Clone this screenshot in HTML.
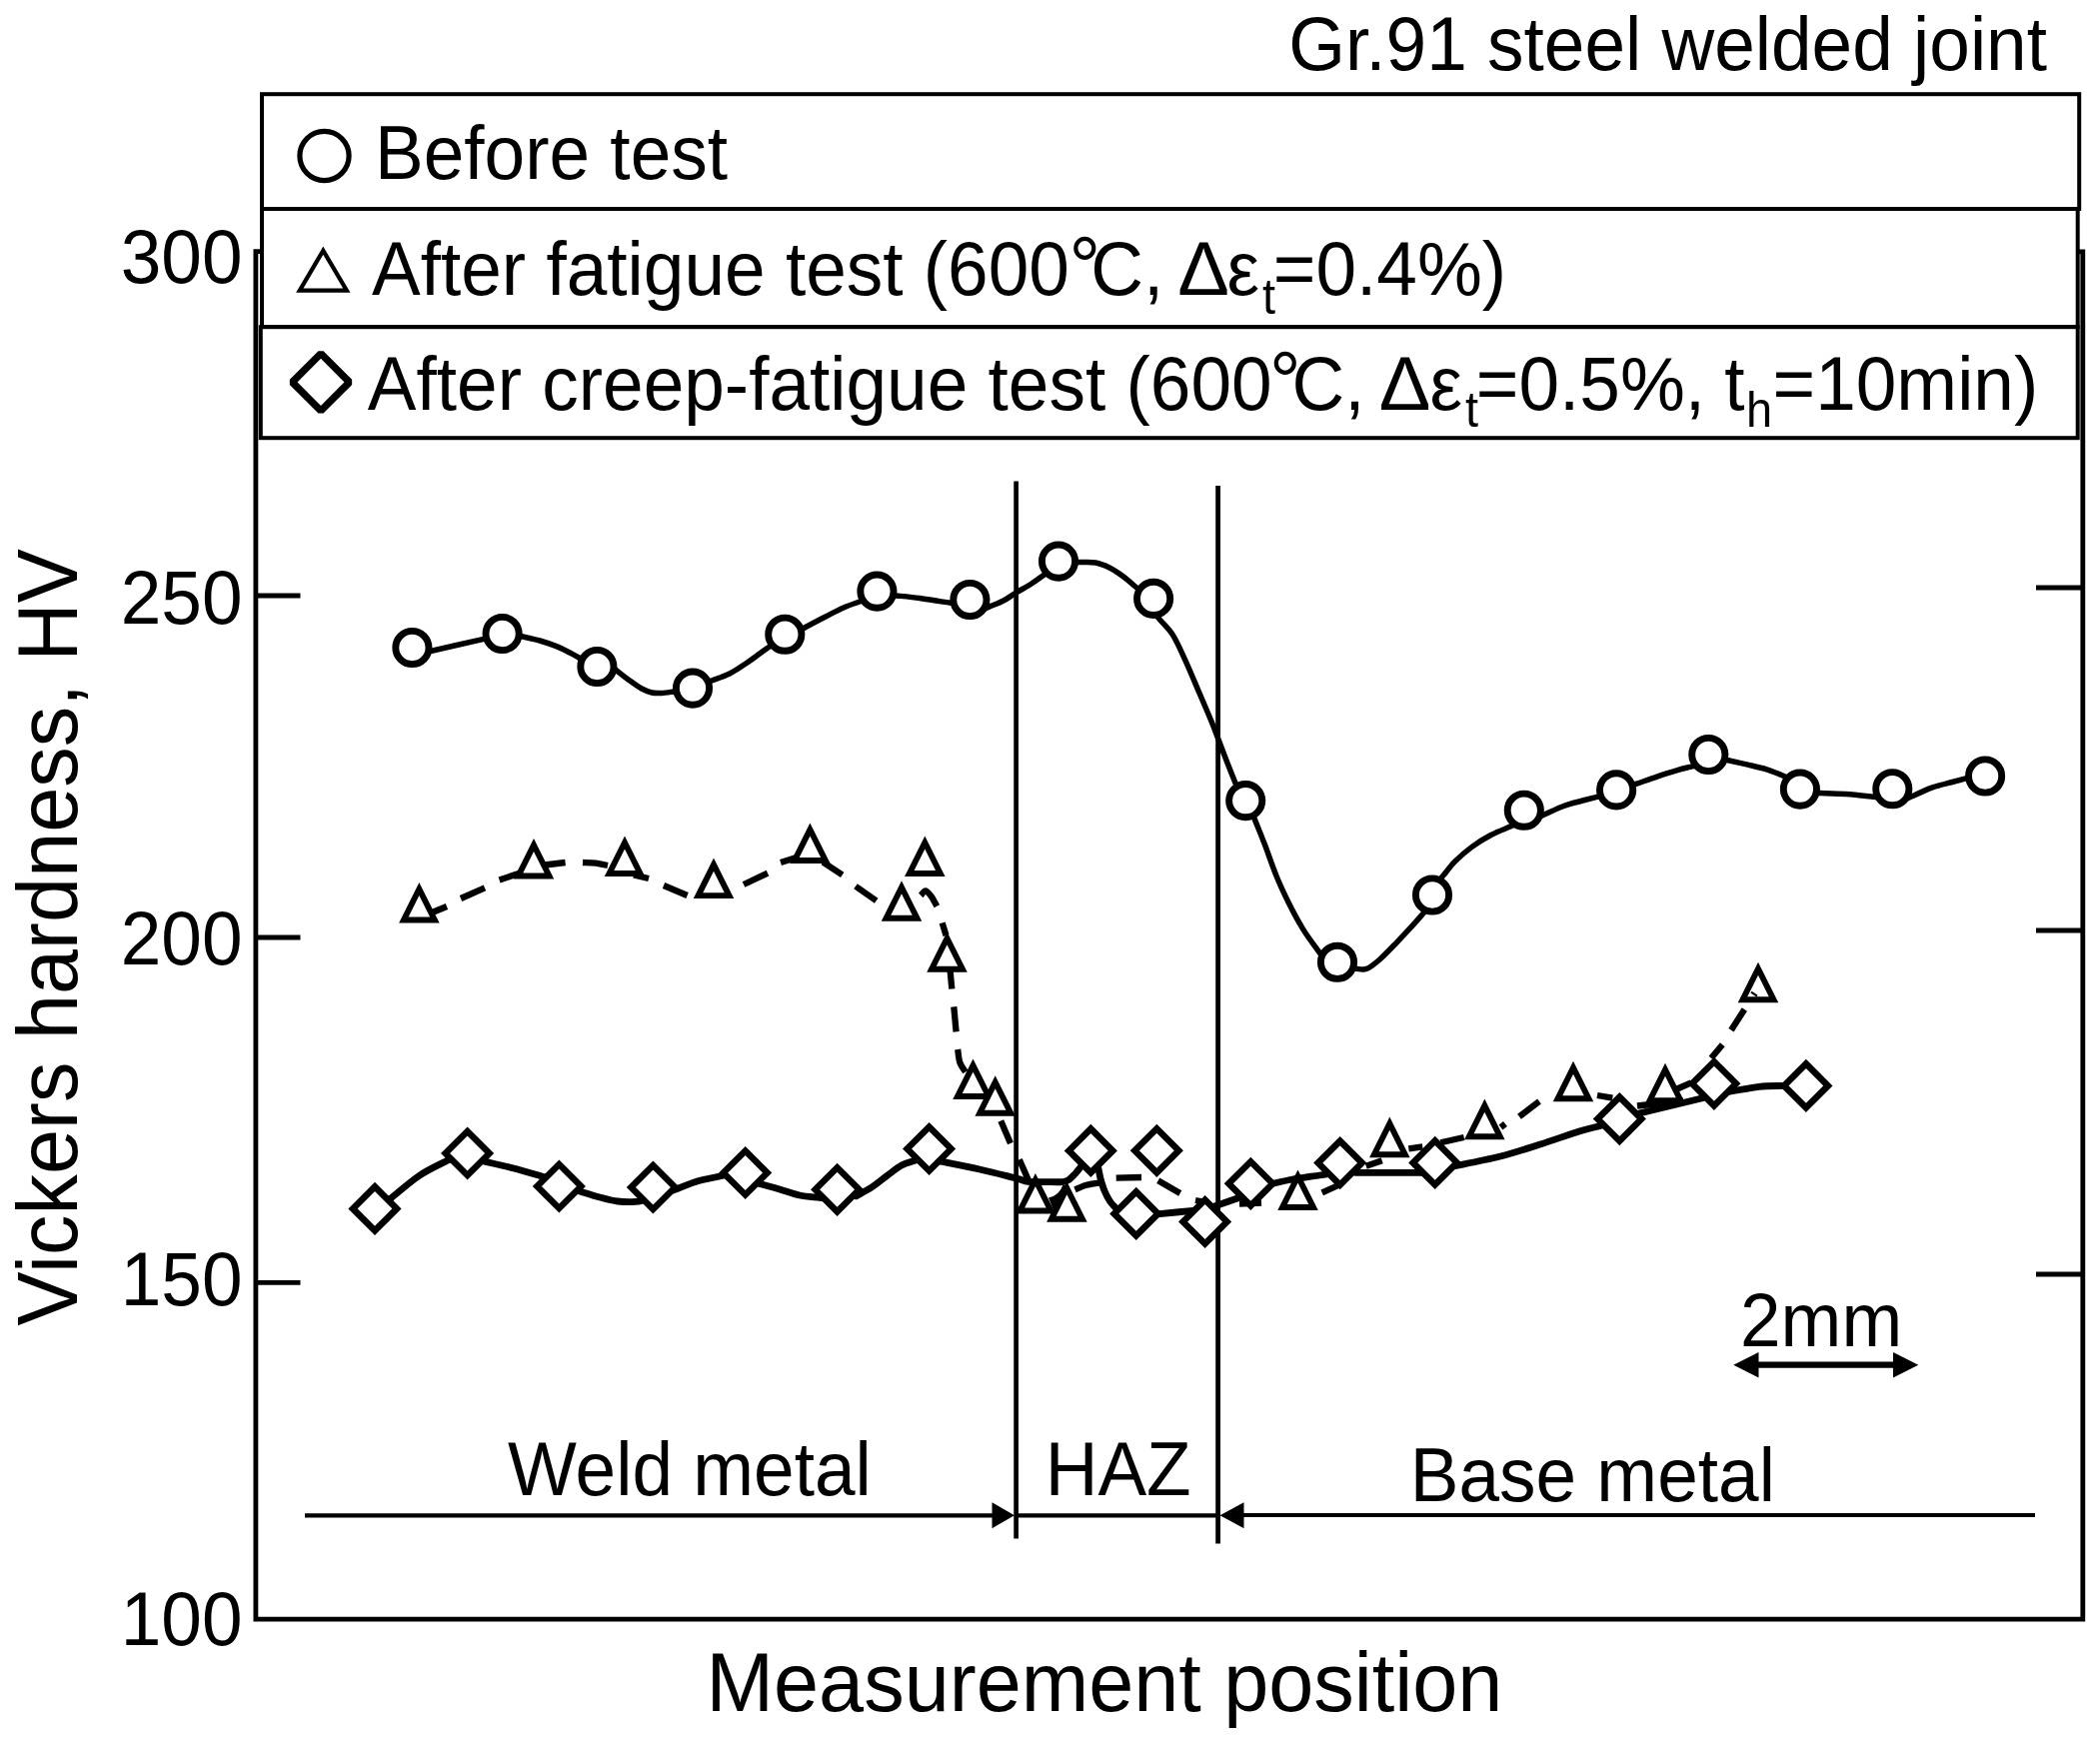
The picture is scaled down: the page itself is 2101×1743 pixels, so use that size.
<!DOCTYPE html>
<html lang="en"><head><meta charset="utf-8"><title>Vickers hardness - Gr.91 steel welded joint</title>
<style>html,body{margin:0;padding:0;background:#fff}body{width:2101px;height:1743px;overflow:hidden}svg{display:block}text{font-family:"Liberation Sans",Arial,Helvetica,sans-serif;fill:#000}</style>
</head><body>
<svg width="2101" height="1743" viewBox="0 0 2101 1743">
<rect width="2101" height="1743" fill="#fff"/>
<g stroke="#000" stroke-width="4.8" fill="none" stroke-linecap="butt">
<path d="M262,251.6 H255.9 V1620.2 H2083.8 V251.9 H2078"/>
<path d="M256,596 H300.5"/>
<path d="M256,938 H300.5"/>
<path d="M256,1283.3 H300.5"/>
<path d="M2083.5,588 H2037"/>
<path d="M2083.5,931 H2037"/>
<path d="M2083.5,1275 H2037"/>
</g>
<g stroke="#000" fill="none">
<path d="M1016.6,481.5 V1539.5" stroke-width="4.7"/>
<path d="M1218.6,486 V1544.5" stroke-width="4.8"/>
<path d="M305,1516.4 H1000 M1016,1516.4 H1218 M1235,1516 H2036" stroke-width="4.2"/>
</g>
<path d="M1015,1516.2 L992.5,1503.2 V1529.2 Z" fill="#000"/>
<path d="M1220.5,1516.2 L1244.5,1503.2 V1529.2 Z" fill="#000"/>
<path d="M1755,1365.7 H1898" stroke="#000" stroke-width="6.3" fill="none"/>
<path d="M1734.3,1365.7 L1759.5,1353 V1378.5 Z M1919.3,1365.7 L1894,1353 V1378.5 Z" fill="#000"/>
<g fill="none" stroke="#000" stroke-width="5.5" stroke-linejoin="round">
<path d="M426.2,652.6 C427.3,652.3 423.5,653.2 433.0,651.0 C442.5,648.8 473.5,641.8 483.0,639.6 C492.5,637.4 488.7,638.3 489.8,638.0"/>
<path d="M516.2,635.4 C517.3,635.7 519.0,636.1 523.0,637.0 C527.0,637.9 534.5,639.4 540.0,641.0 C545.5,642.6 551.0,644.4 556.0,646.4 C561.0,648.4 566.2,651.1 570.0,653.0 C573.8,654.9 576.5,656.6 579.0,658.0 C581.5,659.4 584.1,660.8 585.1,661.4"/>
<path d="M611.5,666.7 C612.4,667.4 613.9,668.6 617.0,671.0 C620.1,673.4 625.8,678.0 630.0,681.0 C634.2,684.0 638.3,687.0 642.0,689.0 C645.7,691.0 648.7,692.3 652.0,693.0 C655.3,693.7 658.3,693.6 662.0,693.4 C665.7,693.2 670.8,692.4 674.0,692.0 C677.2,691.6 679.8,691.3 681.0,691.2"/>
<path d="M705.5,683.5 C706.6,683.1 707.9,682.6 712.0,681.0 C716.1,679.4 724.3,676.8 730.0,674.0 C735.7,671.2 741.0,667.3 746.0,664.0 C751.0,660.7 756.5,656.5 760.0,654.0 C763.5,651.5 764.9,650.5 767.0,649.0 C769.1,647.5 771.7,645.6 772.7,644.9"/>
<path d="M798.8,631.2 C799.8,630.7 800.5,630.4 805.0,628.0 C809.5,625.6 819.5,620.3 826.0,617.0 C832.5,613.7 838.3,610.5 844.0,608.0 C849.7,605.5 856.2,603.4 860.0,602.0 C863.8,600.6 865.5,600.0 866.6,599.5"/>
<path d="M890.0,595.3 C891.2,595.4 892.0,595.5 897.0,596.0 C902.0,596.5 912.8,597.5 920.0,598.4 C927.2,599.3 935.0,600.8 940.0,601.6 C945.0,602.4 947.2,602.6 950.0,603.0 C952.8,603.4 955.8,603.8 956.9,604.0"/>
<path d="M983.6,609.8 C984.6,609.3 986.6,608.5 990.0,607.0 C993.4,605.5 999.6,603.3 1004.0,601.0 C1008.4,598.7 1011.9,595.8 1016.6,593.0 C1021.3,590.2 1027.8,586.7 1032.0,584.0 C1036.2,581.3 1039.4,578.8 1042.0,577.0 C1044.6,575.2 1046.8,573.7 1047.7,573.0"/>
<path d="M1073.0,562.4 C1074.2,562.5 1076.2,562.5 1080.0,562.6 C1083.8,562.7 1091.0,562.1 1096.0,563.0 C1101.0,563.9 1105.3,565.7 1110.0,568.0 C1114.7,570.3 1119.7,573.8 1124.0,577.0 C1128.3,580.2 1133.1,584.6 1136.0,587.0 C1138.9,589.4 1140.5,590.7 1141.4,591.5"/>
<path d="M1156.8,615.6 C1157.5,616.5 1158.5,617.7 1161.3,621.0 C1164.1,624.3 1169.4,629.0 1173.4,635.4 C1177.4,641.8 1181.0,650.0 1185.4,659.6 C1189.8,669.2 1195.5,682.9 1199.9,693.3 C1204.3,703.7 1208.9,714.2 1212.0,721.8 C1215.1,729.4 1215.9,731.8 1218.7,739.1 C1221.5,746.4 1225.9,758.2 1228.8,765.6 C1231.7,773.0 1234.4,779.6 1236.1,783.7 C1237.8,787.8 1238.3,789.1 1238.7,790.2"/>
<path d="M1252.8,813.4 C1253.2,814.5 1253.4,814.8 1255.4,819.9 C1257.4,825.0 1261.4,834.6 1265.0,844.0 C1268.6,853.4 1273.0,866.7 1277.0,876.5 C1281.0,886.3 1284.7,894.1 1289.1,903.0 C1293.5,911.9 1298.4,921.1 1303.6,929.6 C1308.8,938.1 1317.0,948.7 1320.5,953.7 C1324.0,958.7 1323.8,958.5 1324.5,959.4"/>
<path d="M1349.6,969.3 C1350.8,969.3 1353.6,969.3 1356.6,969.3 C1359.6,969.3 1363.5,970.9 1367.5,969.3 C1371.5,967.7 1375.7,964.1 1380.7,959.7 C1385.7,955.3 1392.0,948.6 1397.6,942.8 C1403.2,937.0 1410.3,929.3 1414.5,924.7 C1418.7,920.1 1420.7,917.6 1422.9,915.1 C1425.1,912.6 1426.7,910.7 1427.5,909.8"/>
<path d="M1440.1,880.7 C1440.9,879.8 1442.0,878.4 1444.6,875.3 C1447.2,872.2 1450.9,866.7 1455.5,862.1 C1460.1,857.5 1466.3,852.0 1472.3,847.6 C1478.3,843.2 1485.2,838.9 1491.6,835.5 C1498.0,832.1 1506.6,829.0 1510.9,827.1 C1515.2,825.2 1516.2,824.8 1517.3,824.3"/>
<path d="M1538.2,818.0 C1539.3,817.5 1540.2,817.1 1544.6,815.2 C1549.0,813.3 1558.2,808.8 1564.4,806.5 C1570.6,804.2 1576.1,803.0 1581.7,801.5 C1587.3,800.0 1594.0,798.3 1597.8,797.3 C1601.6,796.3 1603.4,795.8 1604.6,795.5"/>
<path d="M1630.8,786.5 C1631.9,786.1 1632.8,785.8 1637.4,784.2 C1642.0,782.6 1651.7,779.1 1658.5,776.8 C1665.3,774.5 1672.9,772.2 1678.3,770.6 C1683.7,769.0 1687.5,768.2 1690.7,767.4 C1693.9,766.6 1696.3,765.9 1697.5,765.7"/>
<path d="M1722.3,759.2 C1723.4,759.4 1724.9,759.7 1729.1,760.7 C1733.3,761.7 1741.2,763.4 1747.6,764.9 C1754.0,766.4 1761.7,768.0 1767.5,769.8 C1773.3,771.6 1778.7,774.1 1782.3,775.5 C1785.9,776.9 1787.7,777.6 1788.8,778.0"/>
<path d="M1813.7,793.3 C1814.9,793.4 1815.2,793.4 1820.7,793.6 C1826.2,793.8 1837.8,794.0 1846.7,794.6 C1855.6,795.2 1868.3,796.7 1874.0,797.3 C1879.7,797.9 1879.8,797.9 1881.0,798.0"/>
<path d="M1905.9,799.9 C1907.0,799.4 1907.7,799.1 1912.3,797.1 C1916.9,795.1 1926.6,790.3 1933.4,787.9 C1940.2,785.5 1947.6,784.0 1953.2,782.5 C1958.8,781.0 1963.4,779.7 1966.8,778.8 C1970.2,777.9 1972.4,777.3 1973.6,777.0"/>
</g>
<g fill="none" stroke="#000" stroke-width="6.3" stroke-linejoin="round">
<path d="M430.0,914.0 L447.0,907.0"/>
<path d="M461.0,899.0 L485.0,888.4"/>
<path d="M499.6,880.4 L522.0,873.0"/>
<path d="M545.0,865.5 L565.6,863.0"/>
<path d="M583.0,863.0 C585.2,863.1 591.8,863.1 596.0,863.6 C600.2,864.1 606.0,865.6 608.0,866.0"/>
<path d="M634.0,875.5 L649.0,879.0"/>
<path d="M664.0,886.0 L687.6,896.0"/>
<path d="M744.0,885.0 L768.0,873.6"/>
<path d="M781.0,863.0 L800.0,857.0"/>
<path d="M823.3,862.7 L842.7,875.3"/>
<path d="M856.0,886.7 L876.7,901.3"/>
<path d="M921.3,896.0 C922.1,895.2 924.2,891.1 926.0,891.3 C927.8,891.5 930.1,894.7 932.0,897.3 C933.9,899.9 936.4,905.1 937.3,906.7"/>
<path d="M942.7,923.3 L946.5,936.0"/>
<path d="M950.5,970.0 L952.3,989.5"/>
<path d="M954.3,1007.4 L956.6,1032.4"/>
<path d="M958.2,1050.0 C958.6,1052.2 959.0,1059.1 960.3,1062.9 C961.6,1066.7 965.0,1071.0 965.9,1072.6"/>
<path d="M1001.3,1121.6 L1011.0,1144.1"/>
<path d="M1019.8,1160.2 L1029.0,1181.0"/>
<path d="M1075.5,1190.3 C1077.4,1189.5 1082.9,1186.9 1087.0,1185.8 C1091.1,1184.7 1097.8,1183.9 1100.0,1183.5"/>
<path d="M1116.7,1178.7 L1142.0,1178.0"/>
<path d="M1158.7,1181.3 L1180.7,1194.0"/>
<path d="M1196.0,1201.0 L1204.0,1202.5"/>
<path d="M1240.0,1204.5 L1262.0,1203.5"/>
<path d="M1322.7,1193.3 L1340.0,1185.5"/>
<path d="M1366.7,1166.7 L1382.7,1161.3"/>
<path d="M1409.3,1149.3 L1423.3,1147.3"/>
<path d="M1441.3,1143.3 L1464.7,1138.0"/>
<path d="M1501.5,1128.0 L1506.0,1124.5"/>
<path d="M1520.0,1117.3 L1540.0,1102.0"/>
<path d="M1598.0,1096.0 L1613.3,1098.7"/>
<path d="M1638.0,1106.5 L1684.0,1101.5"/>
<path d="M1678.0,1089.5 L1692.0,1083.3"/>
<path d="M1712.0,1058.7 L1723.3,1045.3"/>
<path d="M1732.0,1030.7 L1745.3,1010.0"/>
<path d="M1752,992.7 L1758,996.7" stroke-width="2.2"/>
<path d="M1063.5,1185.5 Q1060,1196 1049,1198.5 L1054,1211 L1067,1186 Z" fill="#000" stroke="none"/>
</g>
<g fill="#fff" stroke="#000" stroke-width="5.9" stroke-linejoin="miter">
<path d="M419.4,889.5 L403.9,920.5 L434.9,920.5 Z"/>
<path d="M534.0,845.5 L518.5,876.5 L549.5,876.5 Z"/>
<path d="M625.0,843.0 L609.5,874.0 L640.5,874.0 Z"/>
<path d="M714.0,865.1 L698.5,896.1 L729.5,896.1 Z"/>
<path d="M810.4,830.0 L794.9,861.0 L825.9,861.0 Z"/>
<path d="M902.0,887.8 L886.5,918.8 L917.5,918.8 Z"/>
<path d="M925.3,843.0 L909.8,874.0 L940.8,874.0 Z"/>
<path d="M947.5,938.8 L932.0,969.8 L963.0,969.8 Z"/>
<path d="M973.5,1066.0 L958.0,1097.0 L989.0,1097.0 Z"/>
<path d="M995.7,1082.8 L980.2,1113.8 L1011.2,1113.8 Z"/>
<path d="M1035.9,1180.5 L1020.4,1211.5 L1051.4,1211.5 Z"/>
<path d="M1067.4,1188.8 L1051.9,1219.8 L1082.9,1219.8 Z"/>
<path d="M1298.5,1177.0 L1283.0,1208.0 L1314.0,1208.0 Z"/>
<path d="M1390.3,1124.2 L1374.8,1155.2 L1405.8,1155.2 Z"/>
<path d="M1485.3,1106.2 L1469.8,1137.2 L1500.8,1137.2 Z"/>
<path d="M1574.0,1068.3 L1558.5,1099.3 L1589.5,1099.3 Z"/>
<path d="M1666.0,1070.3 L1650.5,1101.3 L1681.5,1101.3 Z"/>
<path d="M1759.0,969.3 L1743.5,1000.3 L1774.5,1000.3 Z"/>
</g>
<path d="M1752,992.7 L1758,996.7" stroke="#000" stroke-width="2.2"/>
<g fill="none" stroke="#000" stroke-width="6.8" stroke-linejoin="round">
<path d="M384.7,1204.0 C385.8,1203.1 385.1,1203.7 391.0,1199.0 C396.9,1194.3 410.5,1182.3 420.0,1176.0 C429.5,1169.7 442.2,1164.1 448.0,1161.0 C453.8,1157.9 453.9,1157.9 455.1,1157.2"/>
<path d="M478.2,1160.6 C479.5,1160.9 480.0,1161.0 486.0,1162.4 C492.0,1163.8 504.7,1166.6 514.0,1169.0 C523.3,1171.4 536.1,1175.3 542.0,1177.0 C547.9,1178.7 548.4,1178.8 549.7,1179.2"/>
<path d="M572.3,1189.7 C573.6,1190.1 575.4,1190.6 580.0,1192.0 C584.6,1193.4 593.7,1196.3 600.0,1198.0 C606.3,1199.7 612.0,1201.3 618.0,1202.0 C624.0,1202.7 631.7,1202.6 636.0,1202.4 C640.3,1202.2 641.4,1201.5 644.0,1201.0 C646.6,1200.5 650.6,1199.9 651.9,1199.6"/>
<path d="M668.5,1192.8 C669.8,1192.4 671.4,1191.7 676.0,1190.0 C680.6,1188.3 688.7,1184.6 696.0,1182.4 C703.3,1180.2 714.7,1178.2 720.0,1177.0 C725.3,1175.8 726.5,1175.5 727.8,1175.2"/>
<path d="M754.3,1182.9 C755.6,1183.2 757.7,1183.8 762.0,1185.0 C766.3,1186.2 773.7,1188.2 780.0,1190.0 C786.3,1191.8 793.3,1194.6 800.0,1196.0 C806.7,1197.4 815.3,1197.8 820.0,1198.4 C824.7,1199.0 826.6,1199.2 827.9,1199.4"/>
<path d="M857.1,1196.5 C857.3,1196.4 855.5,1197.4 858.0,1196.0 C860.5,1194.6 867.0,1191.3 872.0,1188.0 C877.0,1184.7 883.0,1179.7 888.0,1176.0 C893.0,1172.3 897.3,1168.5 902.0,1166.0 C906.7,1163.5 912.4,1162.3 916.0,1161.0 C919.6,1159.7 922.3,1158.8 923.5,1158.3"/>
<path d="M935.2,1160.8 C936.5,1161.1 935.5,1160.9 943.0,1162.4 C950.5,1163.9 967.8,1167.3 980.0,1170.0 C992.2,1172.7 1007.9,1176.8 1016.0,1178.8 C1024.1,1180.8 1023.9,1181.7 1028.7,1182.3 C1033.5,1182.9 1039.3,1182.5 1045.0,1182.6 C1050.7,1182.6 1058.9,1183.0 1063.0,1182.6 C1067.1,1182.2 1067.5,1181.6 1069.5,1180.3 C1071.5,1179.0 1073.2,1177.1 1075.2,1175.0 C1077.2,1172.9 1079.3,1170.0 1081.2,1167.8 C1083.1,1165.6 1085.5,1162.7 1086.3,1161.7"/>
<path d="M1097.6,1163.2 C1097.9,1164.5 1098.7,1168.2 1099.3,1171.0 C1099.9,1173.8 1100.3,1176.8 1101.3,1180.2 C1102.3,1183.7 1103.6,1188.1 1105.1,1191.7 C1106.6,1195.3 1108.7,1199.2 1110.5,1202.0 C1112.3,1204.8 1114.2,1206.2 1116.0,1208.3 C1117.8,1210.4 1120.4,1213.3 1121.3,1214.3"/>
<path d="M1152.0,1215.5 C1153.4,1215.4 1153.1,1215.4 1160.0,1214.7 C1166.9,1214.0 1186.4,1212.0 1193.3,1211.3 C1200.2,1210.6 1199.9,1210.6 1201.3,1210.5"/>
<path d="M1212.4,1207.9 C1213.7,1207.5 1215.9,1206.7 1220.0,1205.3 C1224.1,1203.9 1233.2,1200.7 1237.3,1199.3 C1241.4,1197.9 1243.6,1197.1 1244.9,1196.7"/>
<path d="M1266.9,1185.7 C1268.2,1185.4 1270.3,1184.9 1274.7,1184.0 C1279.1,1183.1 1285.8,1181.3 1293.3,1180.0 C1300.8,1178.7 1314.2,1176.9 1320.0,1176.0 C1325.8,1175.1 1326.6,1175.0 1327.9,1174.8"/>
<path d="M1356.0,1173.3 C1357.3,1173.3 1353.3,1173.3 1364.0,1173.3 C1374.7,1173.3 1409.3,1173.3 1420.0,1173.3 C1430.7,1173.3 1426.7,1173.3 1428.0,1173.3"/>
<path d="M1447.5,1168.3 C1448.8,1168.1 1446.5,1168.5 1455.3,1166.7 C1464.1,1164.9 1485.9,1160.9 1500.0,1157.3 C1514.1,1153.7 1526.7,1149.5 1540.0,1145.3 C1553.3,1141.1 1570.0,1135.1 1580.0,1132.0 C1590.0,1128.9 1595.4,1127.9 1600.0,1126.7 C1604.6,1125.5 1606.4,1125.0 1607.7,1124.7"/>
<path d="M1637.5,1114.6 C1638.8,1114.3 1634.3,1115.3 1645.3,1112.7 C1656.3,1110.1 1692.3,1101.3 1703.3,1098.7 C1714.3,1096.1 1709.8,1097.1 1711.1,1096.8"/>
<path d="M1724.1,1093.3 C1725.4,1093.1 1726.0,1093.0 1732.0,1092.0 C1738.0,1091.0 1751.3,1088.2 1760.0,1087.3 C1768.7,1086.4 1778.7,1086.6 1784.0,1086.4 C1789.3,1086.2 1790.7,1086.2 1792.0,1086.1"/>
</g>
<g fill="#fff" stroke="#000" stroke-width="6.9">
<circle cx="412.4" cy="648.0" r="16.6"/>
<circle cx="502.6" cy="634.0" r="16.6"/>
<circle cx="597.4" cy="667.0" r="16.6"/>
<circle cx="693.0" cy="688.6" r="16.6"/>
<circle cx="785.3" cy="634.7" r="16.6"/>
<circle cx="877.4" cy="591.6" r="16.6"/>
<circle cx="970.4" cy="600.0" r="16.6"/>
<circle cx="1059.0" cy="561.6" r="16.6"/>
<circle cx="1154.1" cy="598.9" r="16.6"/>
<circle cx="1246.2" cy="801.1" r="16.6"/>
<circle cx="1338.0" cy="962.8" r="16.6"/>
<circle cx="1433.0" cy="895.5" r="16.6"/>
<circle cx="1524.8" cy="810.7" r="16.6"/>
<circle cx="1617.1" cy="790.4" r="16.6"/>
<circle cx="1709.3" cy="755.0" r="16.6"/>
<circle cx="1800.9" cy="789.6" r="16.6"/>
<circle cx="1893.3" cy="789.2" r="16.6"/>
<circle cx="1986.1" cy="776.5" r="16.6"/>
</g>
<g fill="#fff" stroke="#000" stroke-width="6.5" stroke-linejoin="miter">
<path d="M375.0,1187.4 L397.0,1209.4 L375.0,1231.4 L353.0,1209.4 Z"/>
<path d="M467.6,1132.0 L489.6,1154.0 L467.6,1176.0 L445.6,1154.0 Z"/>
<path d="M559.4,1165.0 L581.4,1187.0 L559.4,1209.0 L537.4,1187.0 Z"/>
<path d="M653.4,1166.0 L675.4,1188.0 L653.4,1210.0 L631.4,1188.0 Z"/>
<path d="M745.7,1151.5 L767.7,1173.5 L745.7,1195.5 L723.7,1173.5 Z"/>
<path d="M837.6,1168.3 L859.6,1190.3 L837.6,1212.3 L815.6,1190.3 Z"/>
<path d="M929.6,1127.5 L951.6,1149.5 L929.6,1171.5 L907.6,1149.5 Z"/>
<path d="M1091.3,1129.4 L1113.3,1151.4 L1091.3,1173.4 L1069.3,1151.4 Z"/>
<path d="M1157.3,1129.3 L1179.3,1151.3 L1157.3,1173.3 L1135.3,1151.3 Z"/>
<path d="M1136.7,1192.4 L1158.7,1214.4 L1136.7,1236.4 L1114.7,1214.4 Z"/>
<path d="M1205.6,1200.5 L1227.6,1222.5 L1205.6,1244.5 L1183.6,1222.5 Z"/>
<path d="M1251.3,1162.3 L1273.3,1184.3 L1251.3,1206.3 L1229.3,1184.3 Z"/>
<path d="M1340.7,1141.6 L1362.7,1163.6 L1340.7,1185.6 L1318.7,1163.6 Z"/>
<path d="M1435.7,1141.4 L1457.7,1163.4 L1435.7,1185.4 L1413.7,1163.4 Z"/>
<path d="M1620.3,1097.6 L1642.3,1119.6 L1620.3,1141.6 L1598.3,1119.6 Z"/>
<path d="M1714.9,1062.3 L1736.9,1084.3 L1714.9,1106.3 L1692.9,1084.3 Z"/>
<path d="M1806.9,1064.4 L1828.9,1086.4 L1806.9,1108.4 L1784.9,1086.4 Z"/>
</g>
<g fill="#fff" stroke="#000" stroke-width="4">
<rect x="262" y="94.2" width="1818.2" height="114.8"/>
<rect x="262" y="209" width="1816.7" height="118.2"/>
<rect x="260.8" y="327.2" width="1817.9" height="111"/>
</g>
<circle cx="324.5" cy="156" r="24.6" fill="#fff" stroke="#000" stroke-width="5.2"/>
<path d="M323.3,250.7 L299.8,290.6 L346.9,290.6 Z" fill="#fff" stroke="#000" stroke-width="4.2"/>
<path d="M321,353.8 L349.6,382.4 L321,411 L292.4,382.4 Z" fill="#fff" stroke="#000" stroke-width="7.2" stroke-linejoin="bevel"/>
<text transform="translate(1289.2,69.8) scale(1,1.045)" font-size="73">Gr.91 steel welded joint</text>
<text transform="translate(375,179) scale(1,1.045)" font-size="73">Before test</text>
<text transform="translate(372,295.3) scale(1,1.045)" font-size="73">After fatigue test (600</text>
<text transform="translate(1069.5,295.2) scale(1,1.045)" font-size="79">°</text>
<text transform="translate(1091.2,295.3) scale(1,1.045)" font-size="73">C,</text>
<text transform="translate(1178.2,295.3) scale(1.06,1.045)" font-size="73">Δ</text>
<text transform="translate(1227.6,295.3) scale(1,1.045)" font-size="73">ε</text>
<text transform="translate(1263,313.5) scale(1,1.045)" font-size="47">t</text>
<text transform="translate(1273.8,295.3) scale(1,1.045)" font-size="73">=0.4%)</text>
<text transform="translate(367.8,410.2) scale(1,1.045)" font-size="73">After creep-fatigue test (600</text>
<text transform="translate(1270.1,410.2) scale(1,1.045)" font-size="79">°</text>
<text transform="translate(1292.6,410.2) scale(1,1.045)" font-size="73">C,</text>
<text transform="translate(1379.7,410.2) scale(1.06,1.045)" font-size="73">Δ</text>
<text transform="translate(1430.6,410.2) scale(1,1.045)" font-size="73">ε</text>
<text transform="translate(1466,426.6) scale(1,1.045)" font-size="47">t</text>
<text transform="translate(1476.8,410.2) scale(1,1.045)" font-size="73">=0.5%,</text>
<text transform="translate(1725.3,410.2) scale(1,1.045)" font-size="73">t</text>
<text transform="translate(1747,427.3) scale(1,1.045)" font-size="47">h</text>
<text transform="translate(1773.5,410.2) scale(1,1.045)" font-size="73">=10min)</text>
<text transform="translate(242.5,283.3) scale(1,1.045)" font-size="73" text-anchor="end">300</text>
<text transform="translate(242.5,624) scale(1,1.045)" font-size="73" text-anchor="end">250</text>
<text transform="translate(242.5,965) scale(1,1.045)" font-size="73" text-anchor="end">200</text>
<text transform="translate(242.5,1306) scale(1,1.045)" font-size="73" text-anchor="end">150</text>
<text transform="translate(242.5,1646) scale(1,1.045)" font-size="73" text-anchor="end">100</text>
<text transform="translate(508,1496) scale(1,1.045)" font-size="73">Weld metal</text>
<text transform="translate(1045.7,1496) scale(1,1.045)" font-size="73">HAZ</text>
<text transform="translate(1410.7,1501.6) scale(1,1.045)" font-size="73">Base metal</text>
<text transform="translate(1741,1346.7) scale(1,1.045)" font-size="73">2mm</text>
<text transform="translate(706.6,1712) scale(1,1.02)" font-size="81">Measurement position</text>
<text transform="translate(77.2,1326.5) rotate(-90) scale(1,1.045)" font-size="81">Vickers hardness, HV</text>
</svg></body></html>
